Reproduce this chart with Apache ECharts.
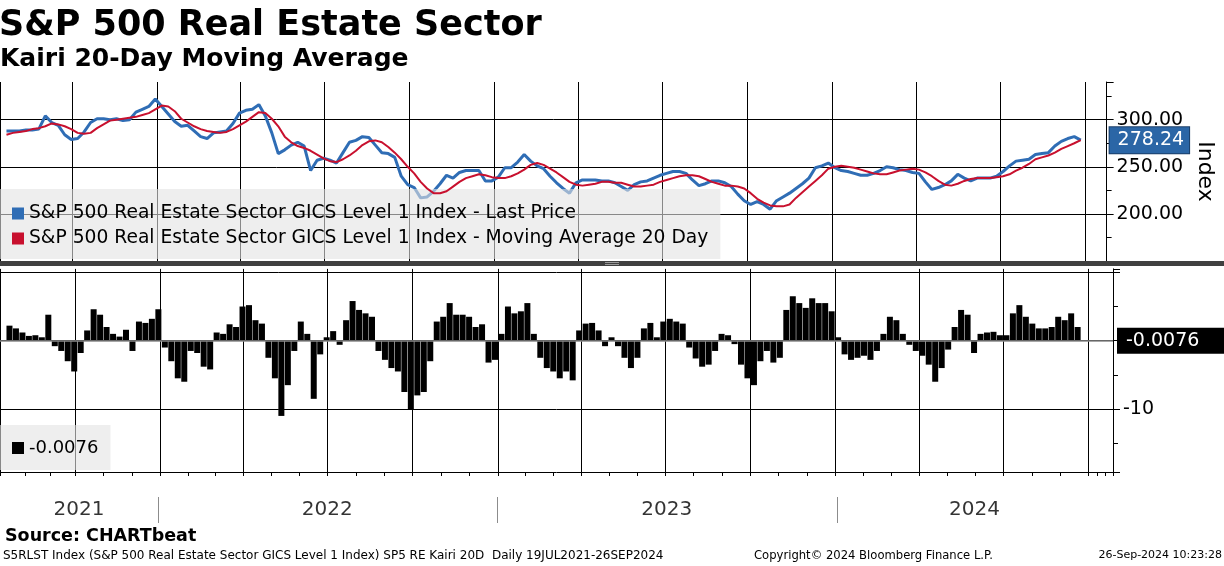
<!DOCTYPE html>
<html lang="en">
<head>
<meta charset="UTF-8">
<title>kairi-20d</title>
<script src="https://cdn.jsdelivr.net/npm/echarts@6/dist/echarts.min.js"></script>
<style>html,body{margin:0;padding:0;background:#fff;}</style>
</head>
<body>
<div id="main" style="width:1224px;height:566px;"></div>
<script>
// weekly readings (Thursdays) from 22 Jul 2021 to 26 Sep 2024
var firstDay = [2021, 6, 22];
var price = [288,288,288,289,289,290,304,297,294,284,
    279,280,287,297,301,301,300,301,299,300,
    308,311,314,322,314,306,298,293,294,288,
    282,280,286,287,288,296,307,310,311,316,
    304,286,264,268,273,276,272,246,257,259,
    257,254,265,276,278,282,281,273,265,264,
    260,240,231,228,217,218,224,232,241,238,
    244,246,246,246,235,235,239,249,249,255,
    263,256,251,248,240,233,227,222,233,236,
    236,236,235,235,233,229,225,231,234,235,
    238,241,243,245,245,243,236,230,232,235,
    235,233,229,221,214,210,213,210,205,214,
    218,222,227,232,238,249,251,254,249,246,
    245,243,241,241,243,246,250,249,247,246,
    244,243,234,226,228,231,235,242,238,235,
    238,238,238,240,245,251,256,257,258,263,
    264,265,272,277,280,282,278.24];
var ma20 = [284,286,287,288,290,291,293,296,295,293,
    290,286,285,286,291,295,299,300,301,302,
    303,305,307,311,315,314,309,301,297,293,
    290,288,287,286,287,290,294,298,303,308,
    307,301,293,282,276,272,270,267,263,259,
    256,255,258,262,267,273,277,278,276,271,
    265,258,250,243,234,227,222,222,224,229,
    234,238,240,242,241,239,238,238,240,243,
    247,252,254,252,248,244,239,234,231,230,
    231,232,234,234,233,233,231,229,229,230,
    231,234,236,238,240,241,241,240,237,234,
    232,230,230,229,227,222,216,212,209,208,
    208,210,217,223,229,235,241,248,250,251,
    250,249,247,245,243,242,242,244,246,247,
    248,247,244,240,235,231,230,232,235,237,
    238,238,238,239,240,242,246,249,253,258,
    260,262,265,269,272,275,278.26];
var kairi = [2.2,1.8,1.2,0.7,0.8,0.5,3.8,-0.8,-1.5,-3.0,
    -4.5,-1.8,1.5,4.6,3.8,2.0,1.0,0.6,1.6,-1.5,
    2.8,2.6,3.2,4.6,-1.0,-3.0,-5.5,-6.0,-1.5,-1.8,
    -3.8,-4.2,1.2,1.0,2.4,2.0,5.0,5.2,3.0,2.5,
    -2.5,-5.5,-11.0,-6.5,-1.5,2.8,1.0,-8.5,-2.0,0.5,
    1.4,-0.6,3.0,5.8,4.5,4.0,3.5,-1.5,-2.8,-4.0,
    -4.5,-7.5,-10.0,-8.0,-7.5,-3.0,2.8,3.5,5.5,3.8,
    3.8,3.5,2.0,2.4,-3.2,-2.8,1.0,5.0,4.0,4.3,
    5.5,1.0,-2.5,-4.0,-4.5,-5.5,-4.5,-5.8,1.5,2.5,
    2.6,1.5,-0.8,0.5,-0.8,-2.5,-4.0,-2.5,1.8,2.6,
    0.5,2.8,3.2,2.8,2.5,-1.0,-2.6,-3.8,-3.5,-1.5,
    1.0,0.8,-0.5,-3.5,-5.5,-6.5,-3.0,-1.5,-3.2,-2.5,
    4.5,6.5,5.5,4.8,6.2,5.5,5.5,4.3,0.5,-2.0,
    -2.8,-2.5,-2.2,-2.8,-1.5,1.0,3.5,3.0,1.0,-0.6,
    -1.5,-2.2,-3.5,-6.0,-4.0,-1.3,2.0,4.5,3.8,-1.8,
    1.0,1.2,1.3,0.8,0.8,4.0,5.2,3.5,2.5,1.8,
    1.8,2.0,3.5,3.0,4.0,2.0,-0.0076];
var yearLabels = ['2021', '2022', '2023', '2024'];
var yearMid = ['2021-10-08', '2022-07-02', '2023-07-02', '2024-05-28'];
var yearStarts = ['2022-01-01', '2023-01-01', '2024-01-01'];
var priceTicks = [200, 250, 300];
var kairiTicks = [-10];

var priceName = 'S&P 500 Real Estate Sector GICS Level 1 Index - Last Price';
var maName = 'S&P 500 Real Estate Sector GICS Level 1 Index - Moving Average 20 Day';
var kairiName = 'SP5 RE Kairi 20D';

var FONT = 'DejaVu Sans';
var DAY = 86400000;

function toTime(s) {
    var p = s.split('-');
    return new Date(+p[0], +p[1] - 1, +p[2]).getTime();
}

var dates = [];
for (var i = 0; i < price.length; i++) {
    dates.push(new Date(firstDay[0], firstDay[1], firstDay[2] + 7 * i).getTime());
}
function pairs(arr) {
    return arr.map(function (v, i) { return [dates[i], v]; });
}

var lastPrice = price[price.length - 1];
var lastKairi = kairi[kairi.length - 1];

function timeAxis(idx, extra) {
    var ax = {
        type: 'time', gridIndex: idx,
        min: toTime('2021-07-15'), max: toTime('2024-10-24'),
        splitNumber: 12, minInterval: 92 * DAY, maxInterval: 150 * DAY,
        axisLine: {show: false}, axisTick: {show: false}, axisLabel: {show: false},
        splitLine: {show: true, lineStyle: {color: '#000', width: 1}}
    };
    for (var k in extra) ax[k] = extra[k];
    return ax;
}

var chart = echarts.init(document.getElementById('main'));
var option = {
    animation: false,
    backgroundColor: '#fff',
    title: [
        {text: 'S&P 500 Real Estate Sector', left: -1, top: 8, padding: 0,
            textStyle: {fontFamily: FONT, fontWeight: 'bold', fontSize: 35, color: '#000'}},
        {text: 'Kairi 20-Day Moving Average', left: 0, top: 47, padding: 0,
            textStyle: {fontFamily: FONT, fontWeight: 'bold', fontSize: 25, color: '#000'}},
        {text: 'Source: CHARTbeat', left: 5, top: 527, padding: 0,
            textStyle: {fontFamily: FONT, fontWeight: 'bold', fontSize: 17.5, color: '#000'}},
        {text: 'S5RLST Index (S&P 500 Real Estate Sector GICS Level 1 Index) SP5 RE Kairi 20D  Daily 19JUL2021-26SEP2024',
            left: 3, top: 550, padding: 0,
            textStyle: {fontFamily: FONT, fontWeight: 'normal', fontSize: 12, color: '#000'}},
        {text: 'Copyright\u00a9 2024 Bloomberg Finance L.P.', left: 754, top: 550, padding: 0,
            textStyle: {fontFamily: FONT, fontWeight: 'normal', fontSize: 11.6, color: '#000'}},
        {text: '26-Sep-2024 10:23:28', right: 2, top: 550, padding: 0,
            textStyle: {fontFamily: FONT, fontWeight: 'normal', fontSize: 11, color: '#000'}}
    ],
    legend: [
        {
            data: [priceName, maName], left: 0, top: 189, orient: 'vertical',
            backgroundColor: 'rgba(226,226,226,0.6)', padding: [15, 12, 11, 12],
            itemGap: 6, itemWidth: 12, itemHeight: 12, icon: 'rect', selectedMode: false,
            textStyle: {fontFamily: FONT, fontSize: 18.7, color: '#000'}
        },
        {
            data: [kairiName], left: 0, top: 425, orient: 'vertical',
            backgroundColor: 'rgba(226,226,226,0.6)', padding: [14, 12, 13, 12],
            itemWidth: 12, itemHeight: 12, icon: 'rect', selectedMode: false,
            formatter: function () { return lastKairi.toFixed(4); },
            textStyle: {fontFamily: FONT, fontSize: 18, color: '#000'}
        }
    ],
    graphic: [
        {type: 'rect', shape: {x: 0, y: 261, width: 1224, height: 5}, style: {fill: '#404040'}, z: 100},
        {type: 'rect', shape: {x: 605, y: 262, width: 14, height: 1}, style: {fill: '#9a9a9a'}, z: 101},
        {type: 'rect', shape: {x: 605, y: 264, width: 14, height: 1}, style: {fill: '#9a9a9a'}, z: 101}
    ],
    grid: [
        {left: 0, right: 111, top: 82, height: 179},
        {left: 0, right: 111, top: 268.9, height: 203.1},
        {left: 0, right: 111, top: 497, height: 26}
    ],
    xAxis: [
        timeAxis(0, {}),
        timeAxis(1, {
            axisLine: {show: true, onZero: false, lineStyle: {color: '#000', width: 1}},
            axisTick: {show: true, length: 4, lineStyle: {color: '#000'}},
            minorTick: {show: true, splitNumber: 3, length: 4, lineStyle: {color: '#000'}}
        }),
        timeAxis(2, {show: false})
    ],
    yAxis: [
        {
            gridIndex: 0, type: 'value', position: 'right',
            min: 150, max: 340, interval: 50,
            axisLine: {show: true, lineStyle: {color: '#000', width: 1}},
            axisTick: {show: true, length: 7, lineStyle: {color: '#000'}},
            minorTick: {show: true, splitNumber: 2, length: 5, lineStyle: {color: '#000'}},
            splitLine: {show: true, showMinLine: false, showMaxLine: false, lineStyle: {color: '#000', width: 1}},
            axisLabel: {
                margin: 10, color: '#000', fontFamily: FONT, fontSize: 19,
                formatter: function (v) { return priceTicks.indexOf(v) >= 0 ? v.toFixed(2) : ''; }
            },
            name: 'Index', nameLocation: 'middle', nameRotate: -90, nameGap: 86,
            nameTextStyle: {fontFamily: FONT, fontSize: 22, color: '#000'}
        },
        {
            gridIndex: 1, type: 'value', position: 'right',
            min: -19.2, max: 10.5, splitNumber: 3,
            axisLine: {show: true, onZero: false, lineStyle: {color: '#000', width: 1}},
            axisTick: {show: true, length: 7, lineStyle: {color: '#000'}},
            minorTick: {show: true, splitNumber: 2, length: 5, lineStyle: {color: '#000'}},
            splitLine: {show: true, showMinLine: false, showMaxLine: false, lineStyle: {color: '#000', width: 1}},
            axisLabel: {
                margin: 10, color: '#000', fontFamily: FONT, fontSize: 19,
                formatter: function (v) { return kairiTicks.indexOf(v) >= 0 ? String(v) : ''; }
            }
        },
        {gridIndex: 2, type: 'value', min: 0, max: 1, show: false}
    ],
    series: [
        {
            name: priceName, type: 'line', xAxisIndex: 0, yAxisIndex: 0,
            data: pairs(price), symbol: 'none', z: 3,
            lineStyle: {color: '#2f6db5', width: 3}, itemStyle: {color: '#2f6db5'},
            markLine: {
                silent: true, symbol: ['none', 'none'],
                data: [{yAxis: lastPrice}],
                lineStyle: {color: 'rgba(0,0,0,0)', width: 0},
                label: {
                    position: 'end', distance: 3, formatter: lastPrice.toFixed(2),
                    backgroundColor: '#2b66a6', borderColor: '#1b3f69', borderWidth: 1,
                    color: '#fff', fontFamily: FONT, fontSize: 19, lineHeight: 20,
                    padding: [3, 5, 3, 8]
                }
            }
        },
        {
            name: maName, type: 'line', xAxisIndex: 0, yAxisIndex: 0,
            data: pairs(ma20), symbol: 'none', z: 4,
            lineStyle: {color: '#c8102e', width: 2}, itemStyle: {color: '#c8102e'}
        },
        {
            name: kairiName, type: 'bar', xAxisIndex: 1, yAxisIndex: 1,
            data: pairs(kairi), barWidth: 6,
            itemStyle: {color: '#000'},
            markLine: {
                silent: true, symbol: ['none', 'none'],
                data: [{yAxis: lastKairi}],
                lineStyle: {color: '#8a8a8a', width: 1.5, type: 'solid'},
                label: {
                    position: 'end', distance: 4, formatter: lastKairi.toFixed(4),
                    backgroundColor: '#000', color: '#fff', fontFamily: FONT, fontSize: 19,
                    lineHeight: 20, padding: [3, 30, 3, 9]
                }
            }
        },
        {
            name: 'years', type: 'scatter', xAxisIndex: 2, yAxisIndex: 2,
            data: yearMid.map(function (d) { return [toTime(d), 0.5]; }),
            symbolSize: 0, silent: true,
            label: {
                show: true, position: 'inside', color: '#000', fontFamily: FONT, fontSize: 20,
                formatter: function (p) { return yearLabels[p.dataIndex]; }
            },
            markLine: {
                silent: true, symbol: ['none', 'none'], label: {show: false},
                lineStyle: {color: '#8c8c8c', width: 1, type: 'solid'},
                data: yearStarts.map(function (d) { return {xAxis: toTime(d)}; })
            }
        }
    ]
};
chart.setOption(option);
</script>
</body>
</html>
